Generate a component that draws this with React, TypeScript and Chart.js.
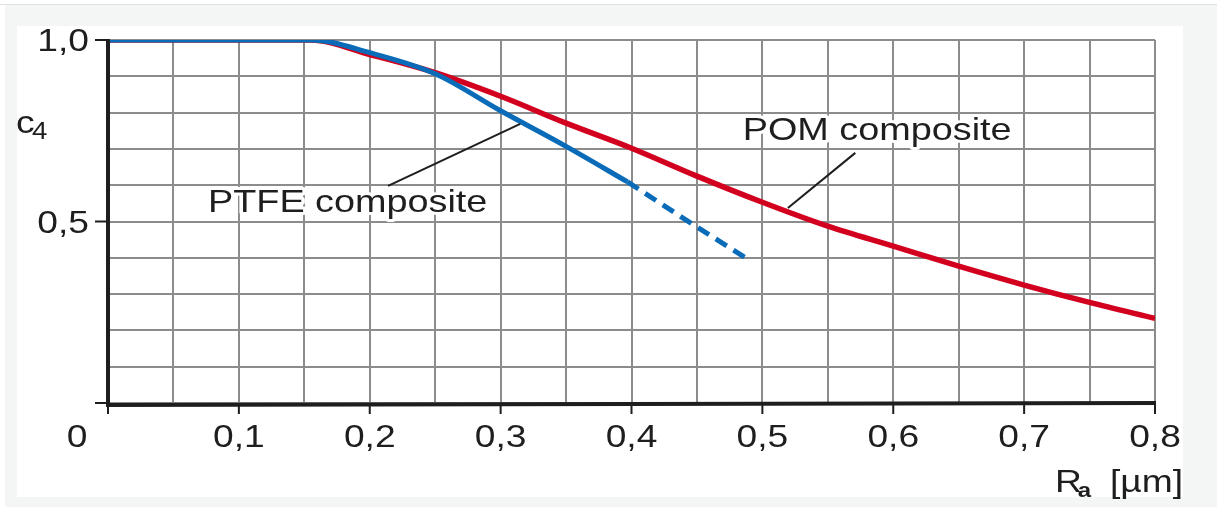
import { useEffect, useRef } from "react";
import { Chart, registerables } from "chart.js";

Chart.register(...registerables);

// ---- data ----
const pomX = [0, 0.05, 0.1, 0.155, 0.2, 0.25, 0.3, 0.35, 0.4, 0.45, 0.5, 0.55, 0.6, 0.65, 0.7, 0.75, 0.8];
const pomY = [1, 1, 1, 1, 0.96, 0.91, 0.845, 0.771, 0.702, 0.625, 0.553, 0.487, 0.432, 0.377, 0.325, 0.277, 0.233];

const ptfeX = [0, 0.05, 0.1, 0.155, 0.2, 0.25, 0.3, 0.35, 0.397];
const ptfeY = [1, 1, 1, 1, 0.965, 0.907, 0.805, 0.707, 0.609];

const ptfeDashX = [0.397, 0.44, 0.487];
const ptfeDashY = [0.609, 0.508, 0.4];

const xTickValues = [0.1, 0.2, 0.3, 0.4, 0.5, 0.6, 0.7, 0.8];
const xTickLabels = ["0,1", "0,2", "0,3", "0,4", "0,5", "0,6", "0,7", "0,8"];
const yTickValues = [0.5, 1.0];
const yTickLabels = ["0,5", "1,0"];
const originLabel = "0";

// callouts in data units
const calloutLabels = ["PTFE composite", "POM composite"];
const calloutTextX = [0.0764, 0.485];
const calloutTextY = [0.526, 0.7245];
const calloutLineX1 = [0.214, 0.571];
const calloutLineY1 = [0.598, 0.689];
const calloutLineX2 = [0.315, 0.5195];
const calloutLineY2 = [0.769, 0.537];

const FONT = '"Liberation Sans", Arial, Helvetica, sans-serif';
const SX = 1.2;
const TEXT = "#1e1e1e";

function drawText(
  ctx: CanvasRenderingContext2D,
  text: string,
  x: number,
  y: number,
  font: string,
  align: CanvasTextAlign = "left",
  halo = false
) {
  ctx.save();
  ctx.translate(x, y);
  ctx.scale(SX, 1);
  ctx.font = font;
  ctx.textAlign = align;
  ctx.textBaseline = "alphabetic";
  if (halo) {
    ctx.strokeStyle = "#ffffff";
    ctx.lineWidth = 6;
    ctx.lineJoin = "round";
    ctx.strokeText(text, 0, 0);
  }
  ctx.fillStyle = TEXT;
  ctx.fillText(text, 0, 0);
  ctx.restore();
}

function textWidth(ctx: CanvasRenderingContext2D, text: string, font: string) {
  ctx.save();
  ctx.font = font;
  const w = ctx.measureText(text).width * SX;
  ctx.restore();
  return w;
}

const backgroundPlugin = {
  id: "bg",
  beforeDraw(chart: any) {
    const ctx: CanvasRenderingContext2D = chart.ctx;
    const w = chart.width;
    const h = chart.height;
    ctx.save();
    ctx.fillStyle = "#ffffff";
    ctx.fillRect(0, 0, w, h);
    ctx.fillStyle = "#f4f6f6";
    ctx.fillRect(5, 4, w - 5, h - 4);
    ctx.fillStyle = "#dde3e6";
    ctx.fillRect(0, 4, w, 1);
    ctx.fillStyle = "#ffffff";
    ctx.fillRect(17, 26, 1166, 471);
    ctx.restore();
  },
};

const decorPlugin = {
  id: "decor",
  afterDatasetsDraw(chart: any) {
    const ctx: CanvasRenderingContext2D = chart.ctx;
    const xs = chart.scales.x;
    const ys = chart.scales.y;
    const { left, right, top, bottom } = chart.chartArea;
    ctx.save();

    // axes
    ctx.strokeStyle = "#1e1e1e";
    ctx.lineCap = "butt";
    ctx.lineWidth = 4;
    ctx.beginPath();
    ctx.moveTo(left, top - 1);
    ctx.lineTo(left, bottom + 2);
    ctx.lineTo(right + 1, bottom);
    ctx.stroke();

    // ticks
    ctx.lineWidth = 2;
    ctx.beginPath();
    [0, ...yTickValues].forEach((v) => {
      const y = ys.getPixelForValue(v);
      ctx.moveTo(left - 13, y);
      ctx.lineTo(left, y);
    });
    [0, ...xTickValues].forEach((v) => {
      const x = xs.getPixelForValue(v);
      ctx.moveTo(x, bottom);
      ctx.lineTo(x, bottom + 11);
    });
    ctx.stroke();

    const tickFont = `31px ${FONT}`;
    yTickValues.forEach((v, i) => {
      drawText(ctx, yTickLabels[i], left - 19, ys.getPixelForValue(v) + 11, tickFont, "right");
    });
    xTickValues.forEach((v, i) => {
      drawText(ctx, xTickLabels[i], xs.getPixelForValue(v), bottom + 44, tickFont, "center");
    });
    drawText(ctx, originLabel, left - 31, bottom + 44, tickFont, "center");

    // axis titles
    drawText(ctx, "c", left - 92, top + 93, `31px ${FONT}`, "left");
    drawText(ctx, "4", left - 76, top + 99, `23px ${FONT}`, "left");

    const rFont = `31px ${FONT}`;
    const rx = 1055;
    drawText(ctx, "R", rx, bottom + 89, rFont, "left");
    const rw = textWidth(ctx, "R", rFont);
    drawText(ctx, "a", rx + rw - 4, bottom + 94, `bold 20px ${FONT}`, "left");
    drawText(ctx, "[µm]", 1183, bottom + 89, rFont, "right");

    // callouts
    ctx.strokeStyle = "#1e1e1e";
    ctx.lineWidth = 2;
    calloutLabels.forEach((lab, i) => {
      ctx.beginPath();
      ctx.moveTo(xs.getPixelForValue(calloutLineX1[i]), ys.getPixelForValue(calloutLineY1[i]));
      ctx.lineTo(xs.getPixelForValue(calloutLineX2[i]), ys.getPixelForValue(calloutLineY2[i]));
      ctx.stroke();
      drawText(
        ctx,
        lab,
        xs.getPixelForValue(calloutTextX[i]),
        ys.getPixelForValue(calloutTextY[i]),
        `31.5px ${FONT}`,
        "left",
        true
      );
    });

    ctx.restore();
  },
};

export default function App() {
  const canvasRef = useRef<HTMLCanvasElement | null>(null);

  useEffect(() => {
    document.body.style.margin = "0";
    const canvas = canvasRef.current;
    if (!canvas) return;
    const toPts = (xs: number[], ys: number[]) => xs.map((x, i) => ({ x, y: ys[i] }));
    const chart = new Chart(canvas, {
      type: "line",
      data: {
        datasets: [
          {
            label: "PTFE composite",
            data: toPts(ptfeX, ptfeY),
            borderColor: "#0a6cb8",
            borderWidth: 5,
            pointRadius: 0,
            cubicInterpolationMode: "monotone",
            borderCapStyle: "butt",
          },
          {
            label: "PTFE composite (extrapolated)",
            data: toPts(ptfeDashX, ptfeDashY),
            borderColor: "#0a6cb8",
            borderWidth: 5,
            borderDash: [13, 8],
            pointRadius: 0,
            borderCapStyle: "butt",
          },
          {
            label: "POM composite",
            data: toPts(pomX, pomY),
            borderColor: "#d2001e",
            borderWidth: 5.5,
            pointRadius: 0,
            cubicInterpolationMode: "monotone",
            borderCapStyle: "butt",
          },
        ],
      },
      options: {
        animation: false,
        responsive: false,
        maintainAspectRatio: false,
        devicePixelRatio: 1,
        layout: { padding: { left: 108, top: 40, right: 62, bottom: 104 } },
        plugins: {
          legend: { display: false },
          title: { display: false },
          tooltip: { enabled: false },
        },
        scales: {
          x: {
            type: "linear",
            min: 0,
            max: 0.8,
            ticks: { display: false, stepSize: 0.05 },
            grid: { color: "#8c8c8c", lineWidth: 2, drawTicks: false },
            border: { display: false },
          },
          y: {
            type: "linear",
            min: 0,
            max: 1,
            ticks: { display: false, stepSize: 0.1 },
            grid: { color: "#8c8c8c", lineWidth: 2, drawTicks: false },
            border: { display: false },
          },
        },
      },
      plugins: [backgroundPlugin, decorPlugin],
    });
    return () => chart.destroy();
  }, []);

  return (
    <div style={{ width: 1217, height: 507 }}>
      <canvas ref={canvasRef} width={1217} height={507} style={{ display: "block" }} />
    </div>
  );
}
